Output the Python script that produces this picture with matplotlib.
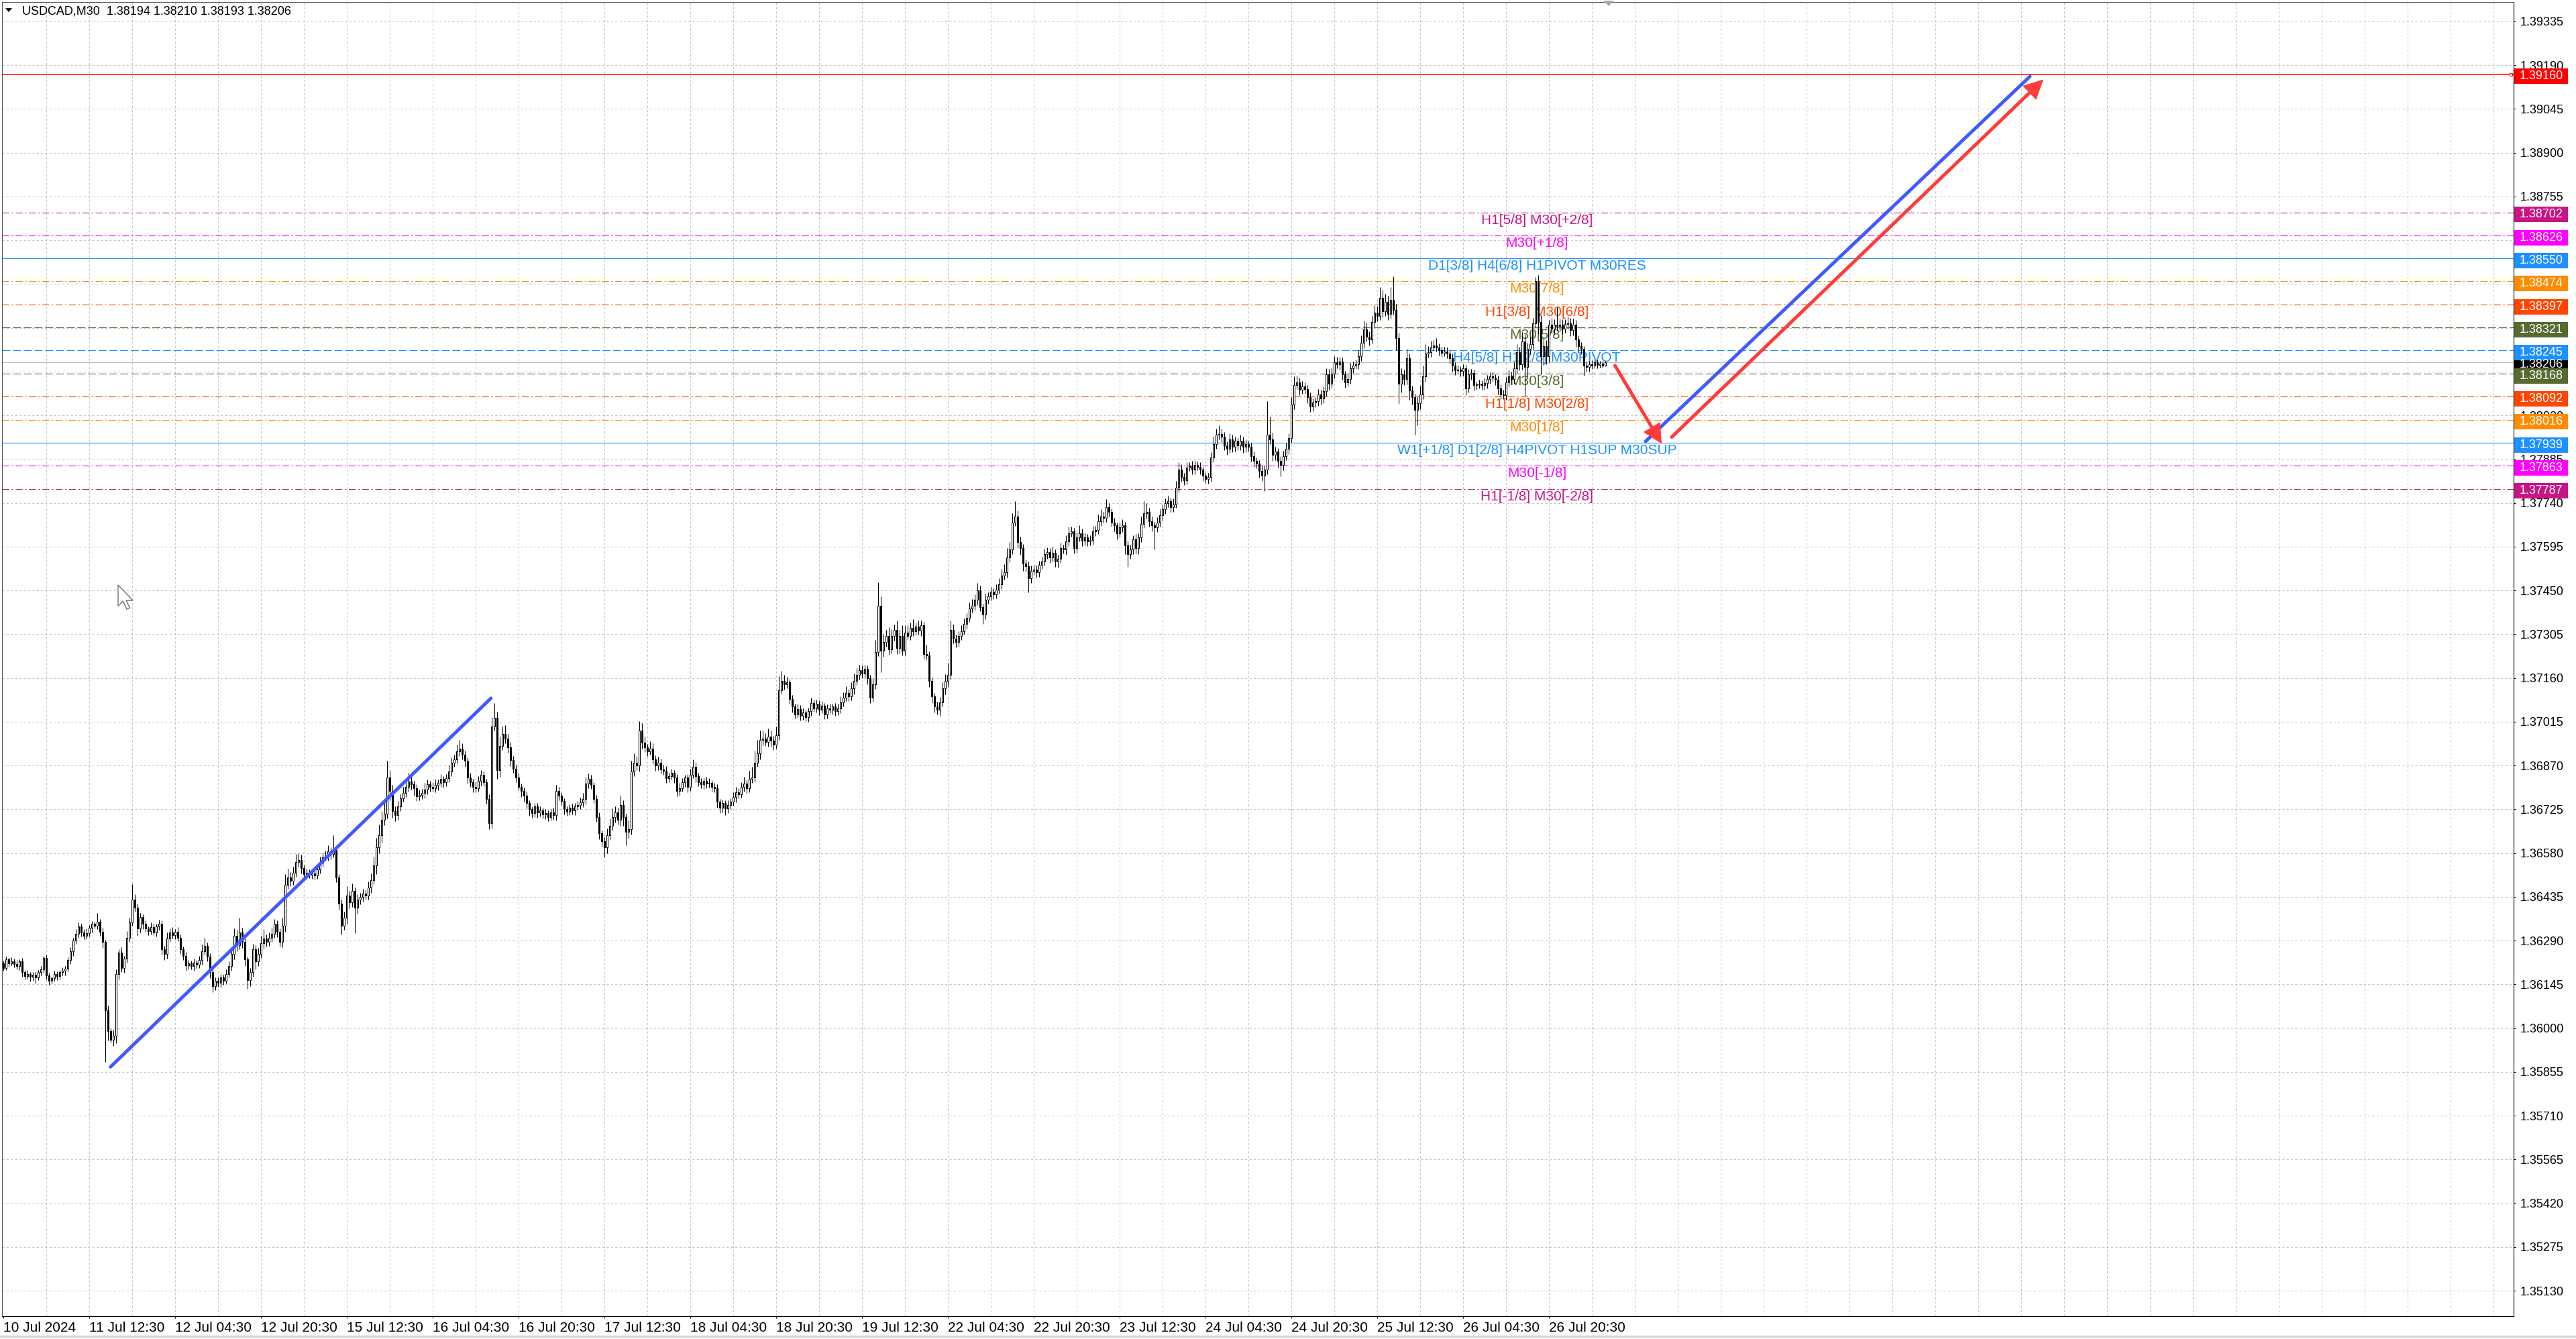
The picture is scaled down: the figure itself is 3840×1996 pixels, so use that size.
import numpy as np
import matplotlib
matplotlib.use("Agg")
import matplotlib.pyplot as plt
from matplotlib.patches import Rectangle, Polygon, FancyArrowPatch
from matplotlib.lines import Line2D
from matplotlib.text import Text
from matplotlib import transforms

plt.rcParams['lines.scale_dashes'] = False

# ---------------- data ----------------
SYMBOL_TITLE = "USDCAD,M30  1.38194 1.38210 1.38193 1.38206"
BASE = 1.35          # prices stored as points (1e-5) above BASE
OPEN0 = 1215

CLOSES = [
    1200, 1228, 1215, 1222, 1212, 1205, 1222, 1185, 1172, 1180, 1170, 1178, 1168, 1185, 1195, 1232, 1175, 1158, 1165, 1180,
    1172, 1185, 1190, 1198, 1225, 1255, 1290, 1312, 1338, 1318, 1305, 1315, 1332, 1345, 1340, 1352, 1320, 1285, 1060, 990,
    962, 975, 1180, 1250, 1200, 1230, 1300, 1350, 1425, 1400, 1330, 1368, 1345, 1330, 1322, 1335, 1318, 1338, 1345, 1262,
    1245, 1298, 1318, 1308, 1320, 1300, 1262, 1240, 1208, 1215, 1205, 1218, 1210, 1225, 1255, 1272, 1238, 1185, 1140, 1158,
    1150, 1168, 1158, 1180, 1205, 1245, 1305, 1275, 1318, 1285, 1228, 1160, 1185, 1262, 1222, 1245, 1282, 1298, 1285, 1300,
    1312, 1345, 1320, 1285, 1340, 1475, 1500, 1488, 1515, 1550, 1558, 1530, 1510, 1515, 1508, 1512, 1506, 1525, 1548, 1566,
    1570, 1585, 1578, 1590, 1500, 1412, 1340, 1365, 1440, 1418, 1455, 1400, 1425, 1435, 1445, 1440, 1465, 1490, 1540, 1600,
    1640, 1690, 1710, 1830, 1785, 1720, 1705, 1735, 1762, 1780, 1800, 1818, 1808, 1795, 1768, 1772, 1780, 1790, 1808, 1800,
    1795, 1805, 1812, 1825, 1815, 1828, 1850, 1880, 1890, 1918, 1925, 1905, 1885, 1830, 1815, 1800, 1795, 1820, 1840, 1815,
    1760, 1680, 2000, 2028, 1855, 1935, 1975, 1960, 1930, 1888, 1860, 1830, 1800, 1785, 1770, 1745, 1725, 1712, 1735, 1715,
    1722, 1708, 1712, 1700, 1715, 1706, 1785, 1770, 1752, 1725, 1718, 1730, 1722, 1735, 1740, 1748, 1760, 1810, 1825, 1805,
    1760, 1700, 1645, 1620, 1600, 1640, 1670, 1700, 1715, 1690, 1740, 1700, 1650, 1660, 1850, 1880, 1870, 1985, 1945, 1930,
    1918, 1925, 1890, 1870, 1880, 1858, 1852, 1828, 1835, 1845, 1830, 1785, 1795, 1815, 1830, 1800, 1840, 1865, 1835, 1815,
    1808, 1820, 1810, 1812, 1800, 1795, 1750, 1730, 1745, 1728, 1740, 1750, 1765, 1782, 1775, 1800, 1810, 1795, 1825, 1830,
    1880, 1910, 1955, 1960, 1948, 1965, 1952, 1940, 1970, 2120, 2150, 2140, 2145, 2090, 2065, 2040, 2058, 2035, 2045, 2030,
    2050, 2078, 2060, 2075, 2055, 2068, 2040, 2060, 2055, 2065, 2050, 2060, 2080, 2095, 2110, 2100, 2125, 2150, 2170, 2185,
    2175, 2190, 2160, 2095, 2140, 2245, 2400, 2250, 2280, 2300, 2255, 2300, 2320, 2260, 2300, 2250, 2310, 2300, 2325, 2315,
    2330, 2318, 2335, 2240, 2235, 2150, 2100, 2065, 2055, 2080, 2125, 2150, 2170, 2320, 2290, 2280, 2300, 2315, 2340, 2360,
    2390, 2400, 2420, 2450, 2395, 2370, 2420, 2430, 2445, 2438, 2452, 2470, 2500, 2510, 2560, 2585, 2675, 2695, 2610, 2590,
    2540, 2530, 2490, 2515, 2520, 2510, 2535, 2545, 2570, 2578, 2560, 2575, 2545, 2555, 2590, 2585, 2612, 2640, 2645, 2590,
    2625, 2640, 2615, 2625, 2612, 2618, 2645, 2650, 2680, 2695, 2690, 2725, 2710, 2675, 2665, 2640, 2660, 2665, 2600, 2570,
    2585, 2620, 2590, 2625, 2670, 2705, 2710, 2680, 2665, 2660, 2675, 2700, 2720, 2740, 2745, 2725, 2735, 2790, 2850, 2825,
    2815, 2858, 2862, 2850, 2865, 2860, 2850, 2830, 2820, 2825, 2890, 2935, 2965, 2968, 2960, 2930, 2920, 2950, 2925, 2945,
    2930, 2945, 2925, 2935, 2925, 2895, 2880, 2870, 2845, 2830, 2850, 2965, 2950, 2900, 2910, 2880, 2865, 2895, 2920, 2955,
    3065, 3130, 3140, 3115, 3125, 3118, 3090, 3060, 3072, 3078, 3100, 3085, 3110, 3165, 3135, 3168, 3205, 3200, 3208, 3165,
    3140, 3150, 3185, 3195, 3200, 3225, 3270, 3315, 3290, 3282, 3340, 3370, 3360, 3420, 3375, 3405, 3365, 3412, 3380, 3285,
    3135, 3165, 3150, 3220, 3112, 3090, 3048, 3070, 3100, 3160, 3235, 3240, 3255, 3262, 3255, 3245, 3238, 3242, 3235, 3220,
    3195, 3180, 3182, 3178, 3185, 3120, 3165, 3170, 3130, 3132, 3135, 3130, 3138, 3150, 3160, 3155, 3148, 3120, 3100, 3098,
    3140, 3160, 3150, 3185, 3240, 3200, 3275, 3190, 3250, 3265, 3335, 3475, 3340, 3225, 3260, 3225, 3330, 3318, 3330, 3325,
    3330, 3318, 3332, 3335, 3312, 3330, 3282, 3260, 3250, 3195, 3190, 3200, 3195, 3205, 3198, 3202, 3194, 3206,
]

WICK_UP = [
    8, 10, 6, 12, 9, 14, 7, 10, 8, 12, 6, 9, 11, 7, 10, 8, 12, 9, 6, 10,
    9, 7, 12, 8, 10, 14, 9, 16, 12, 8, 10, 15, 9, 11, 8, 30, 10, 12, 8, 15,
    10, 20, 15, 12, 18, 10, 22, 16, 52, 18, 12, 14, 10, 12, 8, 15, 10, 9, 14, 12,
    10, 20, 12, 18, 9, 14, 10, 8, 12, 10, 9, 12, 8, 14, 22, 28, 12, 10, 9, 11,
    10, 12, 9, 14, 16, 22, 25, 20, 48, 14, 12, 10, 15, 18, 12, 20, 25, 30, 12, 18,
    20, 16, 12, 10, 25, 35, 28, 18, 20, 28, 22, 16, 12, 14, 10, 12, 9, 14, 20, 16,
    18, 22, 15, 49, 12, 10, 14, 22, 30, 16, 25, 12, 18, 14, 16, 12, 20, 22, 28, 30,
    35, 30, 38, 55, 25, 20, 16, 18, 14, 20, 22, 28, 16, 12, 14, 18, 12, 22, 16, 12,
    14, 18, 12, 16, 10, 14, 20, 18, 16, 22, 30, 18, 14, 12, 16, 10, 18, 14, 16, 12,
    10, 14, 30, 49, 20, 30, 25, 28, 16, 18, 14, 12, 16, 10, 12, 14, 10, 8, 12, 10,
    12, 9, 14, 10, 12, 15, 20, 14, 12, 10, 9, 12, 14, 10, 12, 15, 20, 22, 18, 14,
    10, 12, 14, 10, 12, 22, 25, 28, 20, 16, 30, 14, 10, 28, 35, 30, 22, 32, 26, 20,
    12, 25, 18, 14, 20, 12, 14, 16, 12, 15, 10, 12, 18, 14, 10, 12, 20, 25, 16, 12,
    14, 10, 12, 16, 10, 12, 14, 10, 12, 9, 14, 12, 16, 18, 12, 15, 22, 14, 28, 35,
    40, 45, 30, 25, 18, 28, 20, 16, 30, 45, 34, 20, 18, 12, 14, 10, 16, 12, 14, 10,
    12, 16, 10, 14, 12, 15, 10, 12, 14, 10, 12, 16, 20, 18, 22, 14, 20, 25, 22, 18,
    16, 14, 12, 10, 20, 40, 77, 30, 25, 20, 28, 22, 18, 30, 20, 35, 22, 25, 18, 30,
    14, 20, 16, 12, 30, 14, 12, 10, 16, 18, 20, 22, 40, 30, 18, 14, 16, 20, 18, 16,
    20, 22, 18, 25, 15, 12, 20, 14, 16, 12, 18, 20, 22, 28, 30, 25, 30, 52, 20, 18,
    14, 12, 16, 18, 15, 12, 14, 16, 18, 14, 12, 20, 10, 14, 18, 12, 20, 22, 16, 12,
    18, 25, 14, 16, 12, 15, 18, 14, 22, 25, 16, 28, 14, 12, 16, 10, 14, 20, 12, 14,
    16, 12, 18, 14, 25, 40, 30, 14, 16, 12, 18, 20, 16, 14, 18, 12, 20, 22, 25, 18,
    14, 16, 12, 18, 14, 12, 16, 10, 12, 14, 18, 24, 22, 30, 18, 16, 14, 20, 16, 14,
    12, 20, 14, 16, 12, 14, 16, 10, 12, 20, 14, 112, 60, 22, 16, 12, 14, 18, 20, 16,
    25, 30, 22, 16, 18, 14, 12, 16, 14, 12, 18, 14, 16, 22, 18, 20, 22, 18, 16, 14,
    12, 16, 18, 14, 16, 20, 24, 28, 22, 18, 20, 25, 22, 35, 25, 28, 22, 42, 78, 20,
    18, 22, 16, 30, 14, 16, 12, 20, 28, 35, 30, 20, 22, 18, 25, 14, 12, 16, 14, 12,
    14, 12, 16, 10, 14, 12, 18, 14, 12, 10, 14, 12, 16, 14, 12, 16, 10, 14, 12, 16,
    18, 22, 16, 20, 25, 18, 30, 22, 20, 25, 18, 13, 20, 22, 25, 20, 16, 22, 18, 60,
    20, 18, 16, 22, 18, 20, 16, 14, 12, 10, 14, 10, 12, 8, 10, 9, 8, 4,
]

WICK_DN = [
    10, 8, 12, 7, 10, 9, 12, 14, 10, 8, 15, 12, 20, 9, 10, 12, 14, 15, 10, 8,
    12, 10, 9, 14, 10, 12, 15, 10, 12, 14, 10, 9, 12, 15, 10, 12, 14, 18, 172, 30,
    10, 20, 25, 18, 14, 16, 12, 15, 10, 14, 25, 12, 16, 10, 14, 12, 10, 15, 12, 18,
    20, 14, 12, 10, 14, 12, 16, 14, 18, 12, 10, 14, 12, 10, 14, 12, 16, 18, 20, 14,
    12, 16, 14, 10, 12, 14, 16, 20, 14, 18, 22, 30, 20, 14, 28, 16, 12, 18, 14, 12,
    14, 12, 18, 14, 16, 20, 14, 18, 12, 14, 16, 18, 12, 14, 10, 12, 14, 10, 12, 14,
    12, 14, 18, 12, 16, 20, 30, 14, 18, 20, 16, 86, 20, 14, 16, 12, 14, 16, 12, 30,
    20, 25, 18, 16, 30, 22, 18, 14, 16, 12, 14, 16, 18, 25, 16, 14, 12, 18, 14, 16,
    12, 14, 16, 12, 18, 14, 12, 16, 14, 12, 16, 14, 18, 20, 16, 18, 14, 12, 16, 14,
    16, 20, 18, 14, 30, 22, 14, 16, 18, 20, 14, 16, 12, 18, 20, 16, 22, 14, 12, 18,
    14, 12, 16, 14, 12, 16, 18, 14, 12, 16, 14, 12, 14, 16, 12, 14, 16, 18, 14, 12,
    14, 16, 20, 18, 35, 20, 16, 14, 18, 16, 20, 30, 45, 22, 18, 14, 16, 20, 18, 14,
    16, 12, 14, 18, 16, 14, 12, 16, 14, 12, 18, 16, 14, 12, 16, 18, 14, 12, 20, 14,
    12, 16, 14, 12, 16, 14, 20, 18, 14, 22, 16, 14, 12, 16, 14, 12, 16, 18, 14, 12,
    16, 14, 20, 18, 14, 16, 20, 18, 14, 16, 12, 18, 14, 16, 20, 14, 12, 16, 14, 12,
    14, 16, 12, 14, 18, 12, 16, 14, 12, 16, 14, 12, 16, 14, 12, 16, 14, 18, 12, 14,
    16, 14, 20, 18, 14, 16, 12, 70, 20, 16, 18, 14, 16, 20, 18, 14, 16, 12, 14, 16,
    12, 14, 18, 16, 14, 20, 22, 18, 16, 20, 14, 18, 20, 16, 14, 18, 16, 14, 12, 16,
    14, 12, 16, 18, 14, 30, 16, 14, 12, 16, 14, 12, 16, 14, 18, 16, 14, 12, 20, 22,
    25, 18, 47, 16, 14, 18, 16, 14, 12, 16, 18, 14, 16, 20, 14, 12, 16, 14, 12, 18,
    14, 12, 18, 16, 14, 12, 16, 14, 12, 16, 14, 12, 16, 14, 18, 20, 14, 16, 30, 42,
    16, 14, 18, 20, 14, 12, 16, 18, 20, 75, 16, 14, 18, 16, 14, 16, 14, 12, 16, 14,
    16, 14, 12, 16, 14, 12, 16, 18, 14, 16, 14, 12, 16, 14, 18, 16, 20, 14, 16, 14,
    16, 14, 18, 16, 14, 18, 20, 16, 22, 18, 50, 16, 14, 20, 18, 22, 37, 16, 14, 18,
    16, 14, 12, 18, 14, 16, 20, 18, 16, 14, 16, 18, 14, 16, 20, 14, 16, 14, 18, 16,
    18, 14, 16, 14, 12, 16, 14, 18, 16, 20, 14, 16, 18, 14, 20, 16, 18, 14, 16, 40,
    66, 30, 20, 18, 30, 25, 83, 50, 20, 16, 18, 14, 16, 12, 14, 16, 14, 12, 16, 18,
    20, 16, 14, 18, 16, 22, 14, 16, 18, 14, 12, 16, 14, 18, 16, 14, 18, 20, 16, 14,
    16, 14, 18, 16, 14, 20, 18, 95, 30, 18, 20, 16, 40, 60, 30, 25, 18, 16, 20, 14,
    16, 18, 14, 16, 20, 18, 25, 22, 18, 33, 16, 14, 12, 10, 12, 9, 6, 1,
]

TIME_LABELS = ["10 Jul 2024", "11 Jul 12:30", "12 Jul 04:30", "12 Jul 20:30", "15 Jul 12:30",
               "16 Jul 04:30", "16 Jul 20:30", "17 Jul 12:30", "18 Jul 04:30", "18 Jul 20:30",
               "19 Jul 12:30", "22 Jul 04:30", "22 Jul 20:30", "23 Jul 12:30", "24 Jul 04:30",
               "24 Jul 20:30", "25 Jul 12:30", "26 Jul 04:30", "26 Jul 20:30"]
BARS_PER_LABEL = 32

Y_TICKS = [1.35130, 1.35275, 1.35420, 1.35565, 1.35710, 1.35855, 1.36000, 1.36145, 1.36290, 1.36435,
           1.36580, 1.36725, 1.36870, 1.37015, 1.37160, 1.37305, 1.37450, 1.37595, 1.37740, 1.37885,
           1.38030, 1.38175, 1.38320, 1.38465, 1.38610, 1.38755, 1.38900, 1.39045, 1.39190, 1.39335]

LEVELS = [1.39160, 1.38702, 1.38626, 1.38550, 1.38474, 1.38397, 1.38321, 1.38245,
          1.38168, 1.38092, 1.38016, 1.37939, 1.37863, 1.37787]
LEVEL_NAMES = ["", "H1[5/8] M30[+2/8]", "M30[+1/8]", "D1[3/8] H4[6/8] H1PIVOT M30RES",
               "M30[7/8]", "H1[3/8] M30[6/8]", "M30[5/8]", "H4[5/8] H1[2/8] M30PIVOT",
               "M30[3/8]", "H1[1/8] M30[2/8]", "M30[1/8]", "W1[+1/8] D1[2/8] H4PIVOT H1SUP M30SUP",
               "M30[-1/8]", "H1[-1/8] M30[-2/8]"]
LEVEL_COLORS = ["#FF0000", "#C71585", "#FF00FF", "#1E90FF", "#FF8C00", "#FF4500", "#556B2F",
                "#1E90FF", "#556B2F", "#FF4500", "#FF8C00", "#1E90FF", "#FF00FF", "#C71585"]
LEVEL_STYLES = ["solid", "dashdot", "dashdot", "solid", "dashdot", "dashdot", "dashed",
                "dashed", "dashed", "dashdot", "dashdot", "solid", "dashdot", "dashdot"]
BID = 1.38206

TREND_BLUE_1 = [(39.95, 1.35872), (181.7, 1.37093)]
TREND_BLUE_2 = [(612.0, 1.37944), (755.25, 1.39153)]
ARROW_RED_SHORT = [(600.6, 1.38195), (618.0, 1.37936)]
ARROW_RED_LONG = [(621.7, 1.37958), (760.25, 1.39143)]
LABEL_X_BAR = 571.5

# ---------------- figure ----------------
W, H = 3840, 1996
PX_PER_PRICE = 45000.0
fig = plt.figure(figsize=(W / 100, H / 100), dpi=100)
fig.patch.set_facecolor("white")
ax = fig.add_axes([2.7 / W, (H - 1962) / H, 3744 / W, 1959 / H])
ax.set_facecolor("white")

n = min(len(CLOSES), len(WICK_UP), len(WICK_DN))
c_pts = np.array(CLOSES[:n], dtype=float)
o_pts = np.concatenate([[OPEN0], c_pts[:-1]])
c = BASE + c_pts / 1e5
o = BASE + o_pts / 1e5
hi = np.maximum(o, c) + np.array(WICK_UP[:n]) / 1e5
lo = np.minimum(o, c) - np.array(WICK_DN[:n]) / 1e5
x = np.arange(n)

XMIN, XMAX = -0.575, 935.4
YMIN, YMAX = 1.350461, 1.393994

# grid
GRID = dict(color="#C4C4C4", lw=0.75, linestyle=(0, (2.3, 2.3)), zorder=0.5)
for gx in range(16, int(XMAX) + 1, 16):
    ax.axvline(gx, **GRID)
for gy in Y_TICKS:
    ax.axhline(gy, **GRID)

# level lines and labels
dash_map = {"solid": "-", "dashdot": (0, (7.5, 2.6, 1.6, 2.6)), "dashed": (0, (8.5, 3.0))}
ax.axhline(BID, color="#C0C0C0", lw=0.8, zorder=1.5)
for lv, name, col, st in zip(LEVELS, LEVEL_NAMES, LEVEL_COLORS, LEVEL_STYLES):
    lw = 1.1 if col == "#FF0000" else 0.8
    ax.axhline(lv, color=col, lw=lw, linestyle=dash_map[st], zorder=1.6)
    if name:
        ax.text(LABEL_X_BAR, lv - 11.5 / PX_PER_PRICE, name, color=col, ha="center", va="center",
                fontsize=15, family=["Liberation Sans", "DejaVu Sans"], zorder=2)
ax.plot([XMAX - 0.9], [LEVELS[0]], marker="s", ms=3, mfc="white", mec="#FF0000", mew=0.8,
        zorder=2, clip_on=False)

# candles
ax.vlines(x, lo, hi, color="black", lw=0.75, zorder=3)
bull = c >= o
ax.bar(x[bull], (c - o)[bull], bottom=o[bull], width=0.55, facecolor="white",
       edgecolor="black", linewidth=0.75, zorder=4)
ax.bar(x[~bull], (o - c)[~bull], bottom=c[~bull], width=0.55, facecolor="black",
       edgecolor="black", linewidth=0.75, zorder=4)

# trend lines and arrows
BLUE = "#3F5BFF"
RED = "#FF3B3B"
for seg in (TREND_BLUE_1, TREND_BLUE_2):
    ax.plot([seg[0][0], seg[1][0]], [seg[0][1], seg[1][1]], color=BLUE, lw=3.6,
            solid_capstyle="round", zorder=6)
for seg in (ARROW_RED_SHORT, ARROW_RED_LONG):
    ar = FancyArrowPatch(seg[0], seg[1], arrowstyle="-|>,head_length=1.5,head_width=0.75",
                         mutation_scale=10, color=RED, lw=3.6, shrinkA=0, shrinkB=0,
                         capstyle="round", joinstyle="miter", zorder=6)
    ax.add_patch(ar)

ax.set_xlim(XMIN, XMAX)
ax.set_ylim(YMIN, YMAX)

# axes styling
ax.yaxis.tick_right()
ax.set_yticks(Y_TICKS)
ax.set_yticklabels([f"{v:.5f}" for v in Y_TICKS], fontsize=13, family=["Liberation Sans", "DejaVu Sans"])
ax.tick_params(axis="y", direction="out", length=2.4, width=0.75, pad=5, colors="black")
ax.set_xticks([i * BARS_PER_LABEL for i in range(len(TIME_LABELS))])
ax.set_xticklabels(TIME_LABELS, fontsize=15, ha="left",
                   family=["Liberation Sans Narrow", "Liberation Sans", "DejaVu Sans"])
ax.tick_params(axis="x", direction="out", length=2.4, width=0.75, pad=3.5, colors="black")
for s in ("right", "bottom"):
    ax.spines[s].set_color("black")
    ax.spines[s].set_linewidth(0.8)
for s in ("top", "left"):
    ax.spines[s].set_color("#555555")
    ax.spines[s].set_linewidth(0.8)

# right-side price boxes (drawn a few pixels below their line, as on the terminal)
bt = transforms.blended_transform_factory(fig.transFigure, ax.transData)
box_h = 23 / PX_PER_PRICE
box_shift = 3 / PX_PER_PRICE
box_items = [(BID, "black")] + list(zip(LEVELS, LEVEL_COLORS))
for price, col in box_items:
    yc = price - box_shift
    fig.add_artist(Rectangle((3748 / W, yc - box_h / 2), 80 / W, box_h, transform=bt,
                             facecolor=col, edgecolor="none", zorder=5))
    fig.add_artist(Text(3788 / W, yc, f"{price:.5f}", transform=bt, ha="center", va="center",
                        color="white", fontsize=13, family=["Liberation Sans", "DejaVu Sans"],
                        zorder=6))

def fpx(px, py):
    return (px / W, 1 - py / H)

# title
fig.add_artist(Polygon([fpx(8, 12), fpx(18, 12), fpx(13, 18)], closed=True,
                       transform=fig.transFigure, facecolor="black", edgecolor="none", zorder=6))
fig.text(33 / W, 1 - 16.5 / H, SYMBOL_TITLE, ha="left", va="center", fontsize=13,
         family=["Liberation Sans", "DejaVu Sans"], color="black", zorder=6)

# chart shift marker
fig.add_artist(Polygon([fpx(2390, 1), fpx(2406, 1), fpx(2398, 9)], closed=True,
                       transform=fig.transFigure, facecolor="#A8A8A8", edgecolor="none", zorder=6))

# mouse cursor
cur = [(0, 0), (0, 17), (4, 13), (7, 19.5), (9.5, 18.5), (6.5, 12.5), (12, 12.5)]
fig.add_artist(Polygon([fpx(176 + 1.85 * a, 872 + 1.85 * b) for a, b in cur], closed=True,
                       transform=fig.transFigure, facecolor="white", edgecolor="#707070",
                       lw=1.0, zorder=6))

# window frame bottom
fig.add_artist(Line2D([0, 1], [1 - 1992 / H] * 2, transform=fig.transFigure,
                      color="#D4D4D4", lw=2.5, zorder=6))

fig.savefig("out.png", dpi=100, facecolor="white")
